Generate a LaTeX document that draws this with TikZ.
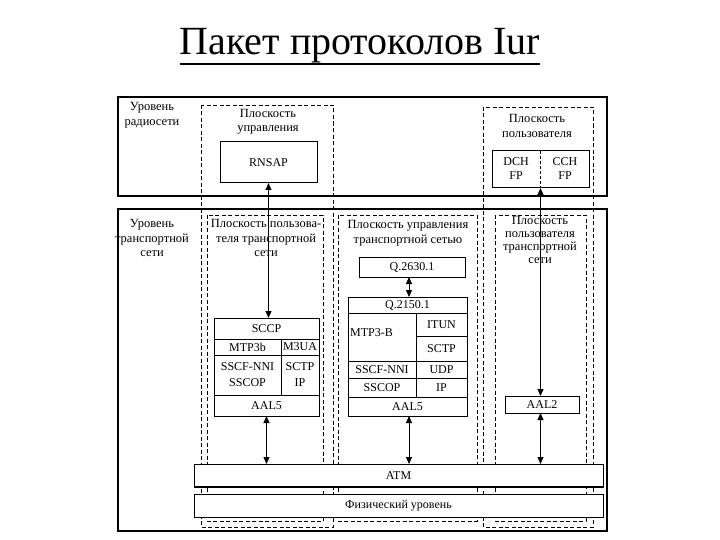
\documentclass[tikz,border=0pt]{standalone}
\usepackage{fontspec}
\setmainfont{Liberation Serif}
\usetikzlibrary{arrows.meta}
\newcommand\mkcell[6]{\node[stackcell, minimum width={(#4-#2)*1pt}, minimum height={(#5-#3)*1pt}] (#1) at ({(#2+#4)/2},{(#3+#5)/2}) {#6};}
\begin{document}
\begin{tikzpicture}[x=1pt,y=-1pt,
  lbl/.style={font=\fontsize{12.5}{14.5}\selectfont, align=center, inner sep=0pt},
  stackcell/.style={draw, fill=white, line width=1pt, inner sep=0pt, outer sep=0pt, font=\fontsize{12}{16}\selectfont, align=center},
  levelbox/.style={draw, line width=1.2pt},
  plane/.style={draw, line width=0.9pt, dash pattern=on 4pt off 2.5pt},
  link/.style={line width=0.9pt, {Triangle[length=7pt,width=6pt]}-{Triangle[length=7pt,width=6pt]}}]
\useasboundingbox (0,0) rectangle (720,540);
% title
\node[font=\fontsize{40}{48}\selectfont, inner sep=0pt, anchor=base] (title) at (360,55) {Пакет протоколов Iur};
\draw[line width=2pt] ([yshift=-9pt]title.base west) -- ([yshift=-9pt]title.base east);
% levels
\draw[levelbox] (118,97) rectangle (607,196);
\draw[line width=2pt] (118,196) -- (607,196);
\draw[levelbox] (118,209) rectangle (607,531);
% planes
\draw[plane] (201,105) rectangle (333,527);
\draw[plane] (483,107) rectangle (593,527);
\draw[plane] (207,215) rectangle (323,521);
\draw[plane] (338,215) rectangle (477,521);
\draw[plane] (495,215) rectangle (586,521);
% labels
\node[lbl] (radiolvl) at (152,115) {Уровень\\радиосети};
\node[lbl] (translvl) at (152,238) {Уровень\\транспортной\\сети};
\node[lbl] (cplane) at (268,122) {Плоскость\\управления};
\node[lbl] (uplane) at (537,126) {Плоскость\\пользователя};
\node[lbl] (tuplanea) at (266,238) {Плоскость пользова-\\теля транспортной\\сети};
\node[lbl] (tcplane) at (408,233) {Плоскость управления\\транспортной сетью};
\node[lbl, font=\fontsize{12.5}{13}\selectfont] (tuplaneb) at (540,240) {Плоскость\\пользователя\\транспортной\\сети};
% radio network level boxes
\mkcell{rnsap}{220}{142}{317}{183}{RNSAP}
\mkcell{fp}{492}{151}{589}{188}{}
\draw[line width=0.8pt, dash pattern=on 3pt off 2pt] (fp.north) -- (fp.south);
\node[lbl, font=\fontsize{12}{14}\selectfont] (dch) at (516,169) {DCH\\FP};
\node[lbl, font=\fontsize{12}{14}\selectfont] (cch) at (565,169) {CCH\\FP};
% left stack
\mkcell{sccp}{214}{318}{319}{339}{SCCP}
\mkcell{mtpb}{214}{339}{281}{355}{MTP3b}
\mkcell{mua}{281}{339}{319}{355}{M3UA}
\mkcell{lsscf}{214}{355}{281}{395}{SSCF-NNI\\SSCOP}
\mkcell{lsctp}{281}{355}{319}{395}{SCTP\\IP}
\mkcell{laal}{214}{395}{319}{416}{AAL5}
% middle stack
\mkcell{qa}{359}{257}{465}{277}{Q.2630.1}
\mkcell{qb}{348}{297}{467}{313}{Q.2150.1}
\mkcell{mtpB}{348}{313}{416}{361}{}
\node[lbl, font=\fontsize{12}{14}\selectfont, anchor=west] (mtpBtxt) at (350,333) {MTP3-B};
\mkcell{itun}{416}{313}{467}{336}{ITUN}
\mkcell{msctp}{416}{336}{467}{361}{SCTP}
\mkcell{msscf}{348}{361}{416}{378}{SSCF-NNI}
\mkcell{udp}{416}{361}{467}{378}{UDP}
\mkcell{msscop}{348}{378}{416}{397}{SSCOP}
\mkcell{mip}{416}{378}{467}{397}{IP}
\mkcell{maal}{348}{397}{467}{416}{AAL5}
% right
\mkcell{aaltwo}{505}{396}{579}{413}{AAL2}
% ATM and physical
\mkcell{atm}{194}{464}{603}{487}{ATM}
\draw[line width=2pt] (atm.south west) -- (atm.south east);
\mkcell{phys}{194}{494}{603}{517}{Физический уровень}
% links
\draw[link] (rnsap.south) -- (rnsap.south |- sccp.north);
\draw[link] (fp.south) -- (fp.south |- aaltwo.north);
\draw[link] ([xshift=-3pt]qa.south) -- ([xshift=-3pt]qa.south |- qb.north);
\draw[link] ([xshift=1.5pt]maal.south) -- ([xshift=1.5pt]maal.south |- atm.north);
\draw[link] (laal.south) -- (laal.south |- atm.north);
\draw[link] ([xshift=-1.5pt]aaltwo.south) -- ([xshift=-1.5pt]aaltwo.south |- atm.north);
\end{tikzpicture}
\end{document}
